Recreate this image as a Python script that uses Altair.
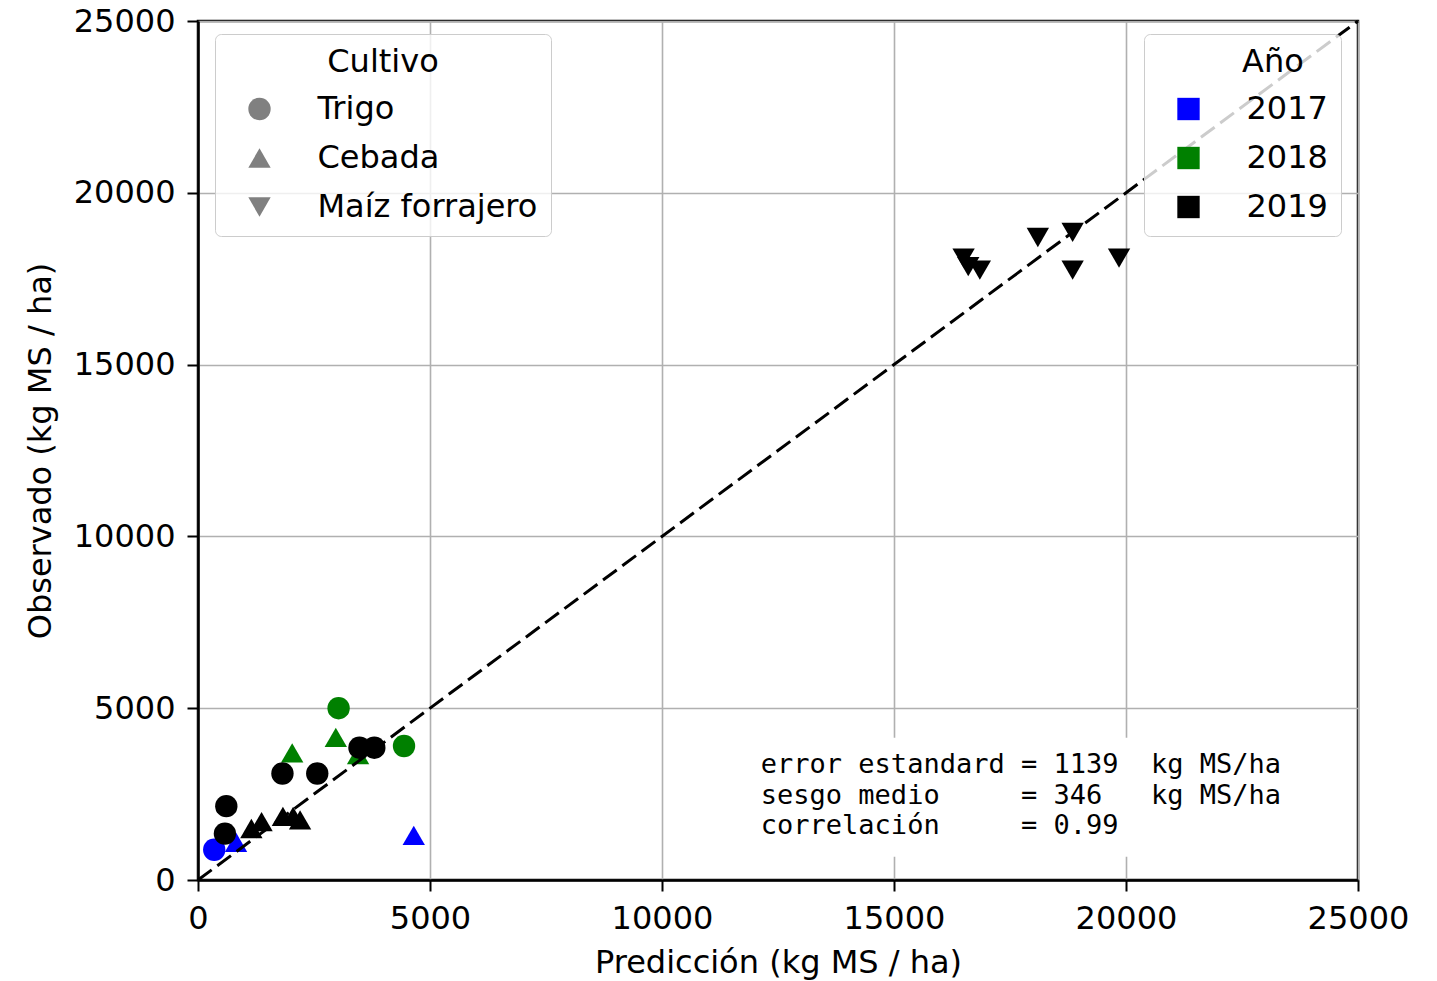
import altair as alt
import pandas as pd

# ---- data ----
pred = [350, 820, 4650,
        3030, 4440, 2970, 2030, 3450,
        3480, 3800, 1820, 2570, 610, 580,
        1150, 1370, 1830, 2050, 2200,
        16500, 16600, 16850, 18100, 18850, 18850, 19850]
obs = [880, 1100, 1300,
       5000, 3900, 4150, 3700, 3650,
       3850, 3850, 3100, 3100, 2150, 1350,
       1500, 1700, 1850, 1850, 1750,
       18100, 17850, 17750, 18700, 18850, 17750, 18100]
cultivo = (["Trigo", "Cebada", "Cebada"]
           + ["Trigo", "Trigo", "Cebada", "Cebada", "Cebada"]
           + ["Trigo"] * 6 + ["Cebada"] * 5 + ["Maíz forrajero"] * 7)
anio = ["2017"] * 3 + ["2018"] * 5 + ["2019"] * 18

cultivos = ["Trigo", "Cebada", "Maíz forrajero"]
formas = ["circle", "triangle-up", "triangle-down"]
anios = ["2017", "2018", "2019"]
colores = ["#0000ff", "#008000", "#000000"]

ticks = [0, 5000, 10000, 15000, 20000, 25000]
diag = [0, 25000]

annot_lines = ["error estandard = 1139  kg MS/ha",
               "sesgo medio     = 346   kg MS/ha",
               "correlación     = 0.99"]
annot_x = [12130]
annot_y = [3100]
box_x = [11900]
box_x2 = [23600]
box_y = [680]
box_y2 = [4140]

FONT = "DejaVu Sans"
NB = "\u00a0"

df = pd.DataFrame({"pred": pred, "obs": obs, "Cultivo": cultivo, "Año": anio,
                   "orden": list(range(len(pred)))})
dline = pd.DataFrame({"a": diag, "b": diag})
dbox = pd.DataFrame({"x": box_x, "x2": box_x2, "y": box_y, "y2": box_y2})
dtext = pd.DataFrame({"x": annot_x, "y": annot_y,
                      "t": ["\n".join(l.replace(" ", NB) for l in annot_lines)]})

xscale = alt.Scale(domain=[0, 25000], nice=False, zero=False)
yscale = alt.Scale(domain=[0, 25000], nice=False, zero=False)

xaxis = alt.Axis(values=ticks, format="d", title="Predicción (kg MS / ha)",
                 titleX=580, titleY=92, titleBaseline="alphabetic", titleAlign="center")
yaxis = alt.Axis(values=ticks, format="d", title="Observado (kg MS / ha)",
                 titleX=-148, titleY=429.5, titleBaseline="alphabetic", titleAlign="center",
                 titleAngle=270)

legend_common = dict(orient="none", padding=13, strokeColor="#cccccc", cornerRadius=6,
                     fillColor="rgba(255,255,255,0.8)", symbolOffset=15.5, labelOffset=42,
                     rowPadding=17, titlePadding=14, labelLimit=0, titleLimit=0,
                     labelFontSize=32, titleFontSize=32, titleFontWeight="normal",
                     titleFont=FONT, labelFont=FONT, labelColor="black", titleColor="black",
                     symbolSize=500, symbolStrokeWidth=0, legendY=13)

points = alt.Chart(df).mark_point(filled=True, size=500, opacity=1, strokeWidth=0).encode(
    x=alt.X("pred:Q", scale=xscale, axis=xaxis),
    y=alt.Y("obs:Q", scale=yscale, axis=yaxis),
    shape=alt.Shape("Cultivo:N", scale=alt.Scale(domain=cultivos, range=formas),
                    legend=alt.Legend(title="Cultivo", legendX=17, titleAnchor="middle",
                                      titleAlign="center",
                                      symbolFillColor="#808080", **legend_common)),
    color=alt.Color("Año:N", scale=alt.Scale(domain=anios, range=colores),
                    legend=alt.Legend(title="Año", legendX=946, symbolType="square",
                                      titleAnchor="middle", titleAlign="left",
                                      **legend_common)),
    order=alt.Order("orden:Q"),
)

line = alt.Chart(dline).mark_line(color="black", strokeWidth=3, strokeDash=[17, 7]).encode(
    x=alt.X("a:Q", scale=xscale), y=alt.Y("b:Q", scale=yscale))

box = alt.Chart(dbox).mark_rect(color="white", opacity=1).encode(
    x=alt.X("x:Q", scale=xscale), x2="x2:Q", y=alt.Y("y:Q", scale=yscale), y2="y2:Q")

text = alt.Chart(dtext).mark_text(align="left", baseline="alphabetic", font="DejaVu Sans Mono",
                                  fontSize=27, lineHeight=30.5, lineBreak="\n", color="black").encode(
    x=alt.X("x:Q", scale=xscale), y=alt.Y("y:Q", scale=yscale), text="t:N")

chart = alt.layer(box, text, points, line).properties(
    width=1160, height=859,
    autosize=alt.AutoSizeParams(type="none"),
    padding={"left": 190, "top": 13, "right": 60, "bottom": 100},
).configure_view(
    stroke="black", strokeWidth=2.5
).configure_axis(
    labelFont=FONT, labelFontSize=32, labelColor="black", labelPadding=12,
    titleFont=FONT, titleFontSize=32, titleFontWeight="normal", titleColor="black",
    tickSize=11, tickWidth=2, tickColor="black",
    domainColor="black", domainWidth=2.5,
    grid=True, gridColor="#b0b0b0", gridWidth=1.6, gridOpacity=1,
    labelFlush=False, labelOverlap=False,
)

chart.save("out.html", embed_options={"renderer": "svg", "actions": False})
